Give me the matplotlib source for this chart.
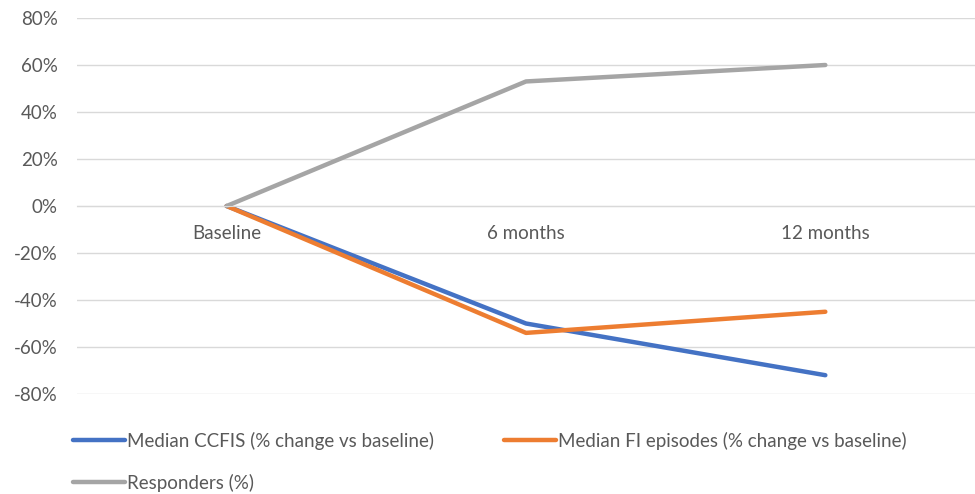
import matplotlib
matplotlib.use("Agg")
import matplotlib.pyplot as plt
from matplotlib.ticker import PercentFormatter

# data (fractions)
categories = ["Baseline", "6 months", "12 months"]
ccfis = [0.0, -0.50, -0.72]
fi_episodes = [0.0, -0.54, -0.45]
responders = [0.0, 0.53, 0.60]

text_col = "#595959"
grid_col = "#D9D9D9"

plt.rcParams['font.family'] = ['Lato', 'DejaVu Sans']
plt.rcParams['axes.unicode_minus'] = False

fig = plt.figure(figsize=(9.75, 4.94), dpi=100)
ax = fig.add_axes([77 / 975, 100 / 494, 1 - 77 / 975, (394 - 18) / 494])

x = list(range(len(categories)))
l1, = ax.plot(x, ccfis, color="#4472C4", lw=3.2, solid_capstyle="round", label="Median CCFIS (% change vs baseline)")
l2, = ax.plot(x, fi_episodes, color="#ED7D31", lw=3.2, solid_capstyle="round", label="Median FI episodes (% change vs baseline)")
l3, = ax.plot(x, responders, color="#A5A5A5", lw=3.2, solid_capstyle="round", label="Responders (%)")

ax.set_xlim(-0.5, len(categories) - 0.5)
ax.set_ylim(-0.8, 0.8)
ax.set_yticks([i / 10 for i in range(-8, 9, 2)])
ax.yaxis.set_major_formatter(PercentFormatter(1.0, decimals=0))
ax.grid(axis="y", color=grid_col, lw=1)
ax.set_axisbelow(True)

ax.set_xticks(x)
ax.set_xticklabels(categories)
ax.spines['bottom'].set_position(('data', 0))
ax.spines['bottom'].set_color(grid_col)
for s in ['top', 'right', 'left']:
    ax.spines[s].set_visible(False)
ax.tick_params(axis="both", length=0, labelsize=13.5, colors=text_col)
ax.tick_params(axis="x", pad=14)
ax.tick_params(axis="y", pad=14)

# order so the legend fills row by row like the original
fig.legend([l1, l3, l2], [l1.get_label(), l3.get_label(), l2.get_label()],
           loc="lower left", bbox_to_anchor=(56 / 975, -0.03), ncol=2, frameon=False,
           fontsize=13.5, labelcolor=text_col, handlelength=2.8, handletextpad=0.1,
           columnspacing=3.7, labelspacing=1.3)

fig.savefig("out.png", dpi=100)
